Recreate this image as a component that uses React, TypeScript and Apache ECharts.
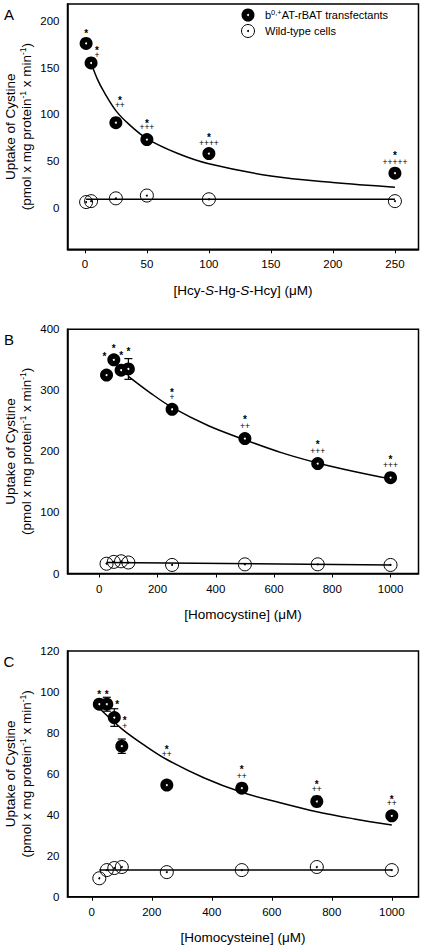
import React, { useEffect, useRef } from "react";
import * as echarts from "echarts";

const FONT = '"Liberation Sans", Arial, Helvetica, sans-serif';

// ---------- Panel A : Hcy-S-Hg-S-Hcy ----------
const xA = [1, 5, 25, 50, 100, 250];
const filledA = [176, 155, 91, 73, 58, 37];
const openA = [6, 7, 10, 13, 9, 7];
const plusesA = ["", "+", "++", "+++", "++++", "+++++"];
const curveAX = [5, 10, 15, 25, 35, 50, 75, 100, 150, 200, 250];
const curveAY = [155, 138, 125, 104, 90, 74, 58, 47, 34, 27, 22];
const flatAX = [1, 250];
const flatAY = [9, 9];
const xTicksA = [0, 50, 100, 150, 200, 250];
const yTicksA = [0, 50, 100, 150, 200];

// ---------- Panel B : Homocystine ----------
const xB = [25, 50, 75, 100, 250, 500, 750, 1000];
const filledB = [325, 350, 333, 335, 269, 221, 180, 157];
const errB = [3, 4, 5, 17, 4, 4, 4, 4];
const openB = [16, 19, 20, 18, 14, 15, 15, 14];
const plusesB = ["", "", "", "", "+", "++", "+++", "+++"];
const curveBX = [100, 175, 250, 375, 500, 625, 750, 875, 1000];
const curveBY = [323, 296, 272, 242, 219, 198, 181, 167, 155];
const flatBX = [25, 1000];
const flatBY = [18, 14];
const xTicksB = [0, 200, 400, 600, 800, 1000];
const yTicksB = [0, 100, 200, 300, 400];

// ---------- Panel C : Homocysteine ----------
const xC = [25, 50, 75, 100, 250, 500, 750, 1000];
const filledC = [94, 94, 87.5, 73.5, 54.5, 53, 46.5, 39.5];
const errC = [1, 3.4, 4.3, 3.5, 1.5, 2, 2.5, 1.5];
const openC = [9, 13, 14, 14.5, 12, 13, 14.5, 13];
const plusesC = ["", "", "", "+", "++", "++", "++", "++"];
const curveCX = [25, 100, 175, 250, 375, 500, 625, 750, 875, 1000];
const curveCY = [92, 82, 74, 67, 58, 51, 46, 41.5, 38, 35];
const flatCX = [25, 1000];
const flatCY = [13, 13];
const xTicksC = [0, 200, 400, 600, 800, 1000];
const yTicksC = [0, 20, 40, 60, 80, 100, 120];

// placement (pixels: dx, star height above point, plus height above point)
const offA = [[0, 12, 0], [6, 15, 8], [4, 24, 18], [0, 18.3, 12.3], [0, 18.7, 10.3], [0, 19.4, 11]];
const offB = [[-2, 21, 0], [0, 13.3, 0], [0, 16.7, 0], [0, 19.3, 0], [0, 18.6, 12], [0, 21, 12.3], [0, 21.6, 12.6], [0, 20, 13]];
const offC = [[0, 11.6, 0], [0, 11.6, 0], [3, 15.7, 0], [3, 28, 20.7], [0, 37.7, 31], [0, 20.6, 12.3], [0, 18.7, 12.7], [0, 18.4, 12.4]];

const GRID_LEFT = 67.5;
const GRID_WIDTH = 351;

const panels = [
  {
    letter: "A", top: 4, height: 245.3, xMin: -14, xMax: 269, yMin: -44.6, yMax: 218.2,
    xTicks: xTicksA, yTicks: yTicksA, xName: "[Hcy-{i|S}-Hg-{i|S}-Hcy] (μM)",
    xs: xA, filled: filledA, err: null as number[] | null, open: openA, pluses: plusesA, offs: offA,
    cX: curveAX, cY: curveAY, fX: flatAX, fY: flatAY,
  },
  {
    letter: "B", top: 329.3, height: 244.2, xMin: -109, xMax: 1096, yMin: 0, yMax: 400,
    xTicks: xTicksB, yTicks: yTicksB, xName: "[Homocystine] (μM)",
    xs: xB, filled: filledB, err: errB, open: openB, pluses: plusesB, offs: offB,
    cX: curveBX, cY: curveBY, fX: flatBX, fY: flatBY,
  },
  {
    letter: "C", top: 651, height: 245.7, xMin: -81, xMax: 1089, yMin: 0, yMax: 120,
    xTicks: xTicksC, yTicks: yTicksC, xName: "[Homocysteine] (μM)",
    xs: xC, filled: filledC, err: errC, open: openC, pluses: plusesC, offs: offC,
    cX: curveCX, cY: curveCY, fX: flatCX, fY: flatCY,
  },
];

const plain = (v: number) => String(v);

function buildOption() {
  const grid: any[] = [];
  const xAxis: any[] = [];
  const yAxis: any[] = [];
  const series: any[] = [];
  const graphic: any[] = [];

  panels.forEach((p, i) => {
    grid.push({
      left: GRID_LEFT, top: p.top, width: GRID_WIDTH, height: p.height,
      show: true, borderColor: "#000", borderWidth: 1.5, backgroundColor: "transparent",
    });
    xAxis.push({
      gridIndex: i, type: "value", min: p.xMin, max: p.xMax,
      axisLine: { show: true, onZero: false, lineStyle: { color: "#000", width: 1.5 } },
      axisTick: { show: true, inside: false, length: 4, customValues: p.xTicks, lineStyle: { color: "#000", width: 1 } },
      axisLabel: { customValues: p.xTicks, formatter: plain, margin: 9, fontSize: 11.5, color: "#000", fontFamily: FONT },
      splitLine: { show: false },
      name: p.xName, nameLocation: "middle", nameGap: 34,
      nameTextStyle: {
        fontSize: 13.5, color: "#000", fontFamily: FONT,
        rich: { i: { fontSize: 13.5, fontStyle: "italic", color: "#000", fontFamily: FONT } },
      },
    });
    yAxis.push({
      gridIndex: i, type: "value", min: p.yMin, max: p.yMax,
      axisLine: { show: true, onZero: false, lineStyle: { color: "#000", width: 1.5 } },
      axisTick: { show: false },
      axisLabel: { customValues: p.yTicks, formatter: plain, margin: 8, fontSize: 11.5, color: "#000", fontFamily: FONT },
      splitLine: { show: false },
    });

    const common = { xAxisIndex: i, yAxisIndex: i, silent: true, animation: false };
    const filledPts = p.xs.map((x, k) => [x, p.filled[k]]);
    const openPts = p.xs.map((x, k) => [x, p.open[k]]);

    // fitted curve
    series.push({
      ...common, type: "line", smooth: 0.35, showSymbol: false, symbol: "none", z: 1,
      data: p.cX.map((x, k) => [x, p.cY[k]]),
      lineStyle: { color: "#000", width: 1.5 },
    });
    // wild-type line
    series.push({
      ...common, type: "line", showSymbol: false, symbol: "none", z: 1,
      data: p.fX.map((x, k) => [x, p.fY[k]]),
      lineStyle: { color: "#000", width: 1.5 },
    });
    // error bars
    if (p.err) {
      const err = p.err;
      series.push({
        ...common, type: "custom", z: 1,
        data: p.xs.map((x, k) => [x, p.filled[k], err[k]]),
        encode: { x: 0, y: 1 },
        renderItem: (_params: any, api: any) => {
          const x = api.value(0);
          const y = api.value(1);
          const e = api.value(2);
          const t = api.coord([x, y + e]);
          const b = api.coord([x, y - e]);
          const w = 4;
          const st = { stroke: "#000", lineWidth: 1.2 };
          return {
            type: "group",
            children: [
              { type: "line", shape: { x1: t[0], y1: t[1], x2: b[0], y2: b[1] }, style: st },
              { type: "line", shape: { x1: t[0] - w, y1: t[1], x2: t[0] + w, y2: t[1] }, style: st },
              { type: "line", shape: { x1: b[0] - w, y1: b[1], x2: b[0] + w, y2: b[1] }, style: st },
            ],
          };
        },
      });
    }
    // open circles (wild type)
    series.push({
      ...common, type: "scatter", symbol: "circle", symbolSize: 13, z: 3, data: openPts,
      itemStyle: { color: "rgba(0,0,0,0)", borderColor: "#000", borderWidth: 1, opacity: 1 },
    });
    series.push({
      ...common, type: "scatter", symbol: "circle", symbolSize: 2, z: 4, data: openPts,
      itemStyle: { color: "#000", opacity: 1 },
    });
    // filled circles (transfectants)
    series.push({
      ...common, type: "scatter", symbol: "circle", symbolSize: 13, z: 3, data: filledPts,
      itemStyle: { color: "#000", opacity: 1 },
    });
    series.push({
      ...common, type: "scatter", symbol: "circle", symbolSize: 2, z: 4, data: filledPts,
      itemStyle: { color: "#fff", opacity: 1 },
    });
    // significance marks (* and +)
    const pluses = p.pluses;
    const offs = p.offs;
    series.push({
      ...common, type: "custom", z: 5,
      data: p.xs.map((x, k) => [x, p.filled[k], k]),
      encode: { x: 0, y: 1 },
      renderItem: (_params: any, api: any) => {
        const k = api.value(2);
        const c = api.coord([api.value(0), api.value(1)]);
        const [dx, sUp, pUp] = offs[k];
        const children: any[] = [
          {
            type: "text", x: c[0] + dx, y: c[1] - sUp + 2.2,
            style: { text: "*", fontSize: 10, fontWeight: "bold", fontFamily: FONT, fill: "#000", align: "center", verticalAlign: "middle" },
          },
        ];
        if (pluses[k]) {
          children.push({
            type: "text", x: c[0] + dx, y: c[1] - pUp,
            style: { text: pluses[k], fontSize: 8.5, fontFamily: FONT, fill: "#000", align: "center", verticalAlign: "middle" },
          });
        }
        return { type: "group", children };
      },
    });

    // y-axis title
    const cy = p.top + p.height / 2;
    graphic.push({
      type: "text", x: 10, y: cy, rotation: Math.PI / 2, silent: true,
      style: { text: "Uptake of Cystine", fontSize: 13.5, fontFamily: FONT, fill: "#000", align: "center", verticalAlign: "middle" },
    });
    graphic.push({
      type: "text", x: 26, y: cy, rotation: Math.PI / 2, silent: true,
      style: {
        text: "(pmol x mg protein{sup|-1} x min{sup|-1})",
        fontSize: 13.5, fontFamily: FONT, fill: "#000", align: "center", verticalAlign: "middle", lineHeight: 16,
        rich: { sup: { fontSize: 8.5, lineHeight: 9, verticalAlign: "top", fontFamily: FONT, fill: "#000" } },
      },
    });
    // panel letter
    graphic.push({
      type: "text", x: 9, y: p.top + 10, silent: true,
      style: { text: p.letter, fontSize: 15, fontFamily: FONT, fill: "#000", align: "center", verticalAlign: "middle" },
    });
  });

  // legend (panel A)
  graphic.push(
    { type: "circle", shape: { cx: 248, cy: 15, r: 6.5 }, style: { fill: "#000" }, silent: true },
    { type: "circle", shape: { cx: 248, cy: 15, r: 1 }, style: { fill: "#fff" }, silent: true },
    {
      type: "text", x: 265, y: 15, silent: true,
      style: {
        text: "b{sup|0,+}AT-rBAT transfectants", fontSize: 11, fontFamily: FONT, fill: "#000",
        align: "left", verticalAlign: "middle", lineHeight: 13,
        rich: { sup: { fontSize: 7.5, lineHeight: 8, verticalAlign: "top", fontFamily: FONT, fill: "#000" } },
      },
    },
    { type: "circle", shape: { cx: 248, cy: 31, r: 6.5 }, style: { fill: "none", stroke: "#000", lineWidth: 1 }, silent: true },
    { type: "circle", shape: { cx: 248, cy: 31, r: 1 }, style: { fill: "#000" }, silent: true },
    {
      type: "text", x: 265, y: 31, silent: true,
      style: { text: "Wild-type cells", fontSize: 11, fontFamily: FONT, fill: "#000", align: "left", verticalAlign: "middle" },
    }
  );

  return {
    animation: false,
    backgroundColor: "#fff",
    textStyle: { fontFamily: FONT },
    grid, xAxis, yAxis, series, graphic,
  };
}

export default function App() {
  const ref = useRef<HTMLDivElement>(null);
  useEffect(() => {
    if (!ref.current) return;
    const chart = echarts.init(ref.current, null, { renderer: "svg" });
    chart.setOption(buildOption() as any);
    return () => chart.dispose();
  }, []);
  return (
    <div
      ref={ref}
      style={{ position: "absolute", left: 0, top: 0, width: 422, height: 946, background: "#fff" }}
    />
  );
}
